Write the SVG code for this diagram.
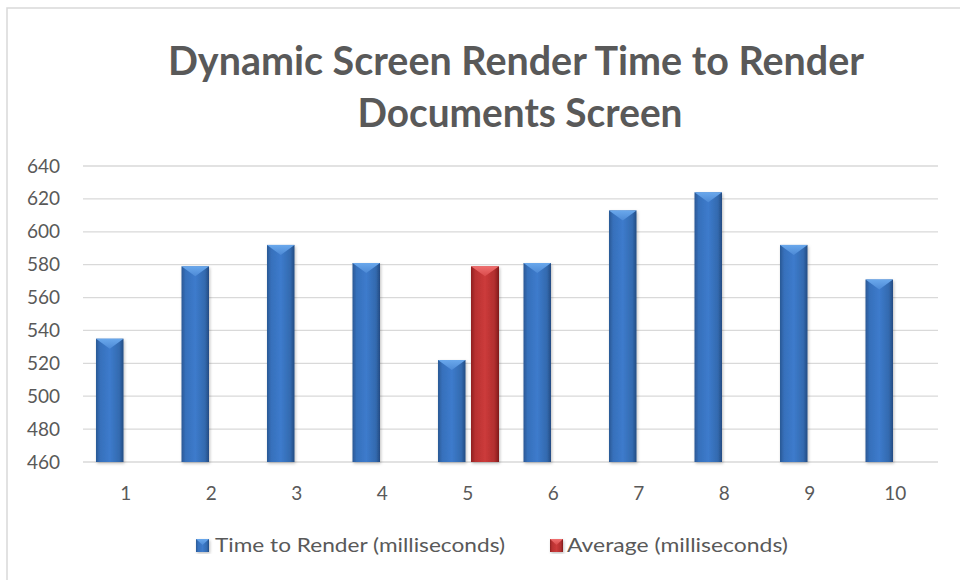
<svg xmlns="http://www.w3.org/2000/svg" width="960" height="580" viewBox="0 0 960 580">
  <style>
    .title { font-family: Lato, "Liberation Sans", sans-serif; font-weight: bold; font-size: 40px; fill: #595959; text-anchor: middle; }
    .tick { font-family: Lato, "Liberation Sans", sans-serif; font-size: 19px; fill: #595959; }
    .ytick { text-anchor: end; }
    .xtick { text-anchor: middle; }
    .legend { font-family: Lato, "Liberation Sans", sans-serif; font-size: 19px; fill: #595959; }
    .grid { stroke: #d9d9d9; stroke-width: 1.3; }
    .frame { stroke: #d9d9d9; stroke-width: 1.5; fill: none; }
    .blue { fill: url(#blueBody); filter: url(#barShadow); }
    .red { fill: url(#redBody); filter: url(#barShadow); }
    .blueCap { fill: url(#blueTop); }
    .redCap { fill: url(#redTop); }
  </style>
  <defs>
    <linearGradient id="blueBody" x1="0" y1="0" x2="1" y2="0">
      <stop offset="0" stop-color="#2a5894"/>
      <stop offset="0.15" stop-color="#3670bb"/>
      <stop offset="0.5" stop-color="#3d7bcc"/>
      <stop offset="0.85" stop-color="#336aaf"/>
      <stop offset="1" stop-color="#234b82"/>
    </linearGradient>
    <linearGradient id="blueTop" x1="0" y1="0" x2="0" y2="1">
      <stop offset="0" stop-color="#6aa8ec"/>
      <stop offset="1" stop-color="#4d8ad6"/>
    </linearGradient>
    <linearGradient id="redBody" x1="0" y1="0" x2="1" y2="0">
      <stop offset="0" stop-color="#8e2020"/>
      <stop offset="0.15" stop-color="#b83131"/>
      <stop offset="0.5" stop-color="#cc3b3b"/>
      <stop offset="0.85" stop-color="#b02e2e"/>
      <stop offset="1" stop-color="#7e1a1a"/>
    </linearGradient>
    <linearGradient id="redTop" x1="0" y1="0" x2="0" y2="1">
      <stop offset="0" stop-color="#f07070"/>
      <stop offset="1" stop-color="#d84a4a"/>
    </linearGradient>
    <filter id="barShadow" x="-30%" y="-10%" width="160%" height="120%">
      <feDropShadow dx="1" dy="1.5" stdDeviation="1.5" flood-color="#000000" flood-opacity="0.25"/>
    </filter>
  </defs>

  <rect x="0" y="0" width="960" height="580" fill="#ffffff"/>
  <!-- chart frame (top and left edges) -->
  <path class="frame" d="M7 580 V8 H960"/>

  <!-- title -->
  <g id="title">
    <text class="title" x="516" y="75" textLength="696" lengthAdjust="spacingAndGlyphs">Dynamic Screen Render Time to Render</text>
    <text class="title" x="520" y="127" textLength="325" lengthAdjust="spacingAndGlyphs">Documents Screen</text>
  </g>

  <!-- gridlines: 460..640 step 20 -->
  <g id="gridlines">
    <line class="grid" x1="83" y1="166" x2="938" y2="166"/>
    <line class="grid" x1="83" y1="198.9" x2="938" y2="198.9"/>
    <line class="grid" x1="83" y1="231.8" x2="938" y2="231.8"/>
    <line class="grid" x1="83" y1="264.7" x2="938" y2="264.7"/>
    <line class="grid" x1="83" y1="297.6" x2="938" y2="297.6"/>
    <line class="grid" x1="83" y1="330.4" x2="938" y2="330.4"/>
    <line class="grid" x1="83" y1="363.3" x2="938" y2="363.3"/>
    <line class="grid" x1="83" y1="396.2" x2="938" y2="396.2"/>
    <line class="grid" x1="83" y1="429.1" x2="938" y2="429.1"/>
    <line class="grid" x1="83" y1="462" x2="938" y2="462"/>
  </g>

  <!-- y axis labels -->
  <g id="y-axis">
    <text class="tick ytick" x="60" y="172.5">640</text>
    <text class="tick ytick" x="60" y="205.4">620</text>
    <text class="tick ytick" x="60" y="238.3">600</text>
    <text class="tick ytick" x="60" y="271.2">580</text>
    <text class="tick ytick" x="60" y="304.1">560</text>
    <text class="tick ytick" x="60" y="336.9">540</text>
    <text class="tick ytick" x="60" y="369.8">520</text>
    <text class="tick ytick" x="60" y="402.7">500</text>
    <text class="tick ytick" x="60" y="435.6">480</text>
    <text class="tick ytick" x="60" y="468.5">460</text>
  </g>

  <!-- x axis labels -->
  <g id="x-axis">
    <text class="tick xtick" x="125.8" y="500">1</text>
    <text class="tick xtick" x="211.3" y="500">2</text>
    <text class="tick xtick" x="296.8" y="500">3</text>
    <text class="tick xtick" x="382.3" y="500">4</text>
    <text class="tick xtick" x="467.8" y="500">5</text>
    <text class="tick xtick" x="553.3" y="500">6</text>
    <text class="tick xtick" x="638.8" y="500">7</text>
    <text class="tick xtick" x="724.3" y="500">8</text>
    <text class="tick xtick" x="809.8" y="500">9</text>
    <text class="tick xtick" x="895.3" y="500">10</text>
  </g>

  <!-- Time to Render series -->
  <g id="series-time">
    <g id="bar-1"><rect class="blue" x="96" y="338.7" width="27.5" height="123.3"/><polygon class="blueCap" points="96,338.7 123.5,338.7 109.75,348.7"/></g>
    <g id="bar-2"><rect class="blue" x="181.5" y="266.3" width="27.5" height="195.7"/><polygon class="blueCap" points="181.5,266.3 209,266.3 195.25,276.3"/></g>
    <g id="bar-3"><rect class="blue" x="267" y="244.9" width="27.5" height="217.1"/><polygon class="blueCap" points="267,244.9 294.5,244.9 280.75,254.9"/></g>
    <g id="bar-4"><rect class="blue" x="352.5" y="263" width="27.5" height="199"/><polygon class="blueCap" points="352.5,263 380,263 366.25,273"/></g>
    <g id="bar-5"><rect class="blue" x="438" y="360" width="27.5" height="102"/><polygon class="blueCap" points="438,360 465.5,360 451.75,370"/></g>
    <g id="bar-6"><rect class="blue" x="523.5" y="263" width="27.5" height="199"/><polygon class="blueCap" points="523.5,263 551,263 537.25,273"/></g>
    <g id="bar-7"><rect class="blue" x="609" y="210.4" width="27.5" height="251.6"/><polygon class="blueCap" points="609,210.4 636.5,210.4 622.75,220.4"/></g>
    <g id="bar-8"><rect class="blue" x="694.5" y="192.3" width="27.5" height="269.7"/><polygon class="blueCap" points="694.5,192.3 722,192.3 708.25,202.3"/></g>
    <g id="bar-9"><rect class="blue" x="780" y="244.9" width="27.5" height="217.1"/><polygon class="blueCap" points="780,244.9 807.5,244.9 793.75,254.9"/></g>
    <g id="bar-10"><rect class="blue" x="865.5" y="279.5" width="27.5" height="182.5"/><polygon class="blueCap" points="865.5,279.5 893,279.5 879.25,289.5"/></g>
  </g>

  <!-- Average series -->
  <g id="series-average">
    <g id="bar-avg"><rect class="red" x="471" y="266.3" width="28" height="195.7"/><polygon class="redCap" points="471,266.3 499,266.3 485,276.3"/></g>
  </g>

  <!-- legend -->
  <g id="legend">
    <g id="legend-time">
      <rect class="blue" x="196" y="539" width="13" height="13"/>
      <polygon class="blueCap" points="196,539 209,539 202.5,545"/>
      <text class="legend" x="215" y="552" textLength="290" lengthAdjust="spacingAndGlyphs">Time to Render (milliseconds)</text>
    </g>
    <g id="legend-average">
      <rect class="red" x="550" y="539" width="13" height="13"/>
      <polygon class="redCap" points="550,539 563,539 556.5,545"/>
      <text class="legend" x="567" y="552" textLength="221" lengthAdjust="spacingAndGlyphs">Average (milliseconds)</text>
    </g>
  </g>
</svg>
